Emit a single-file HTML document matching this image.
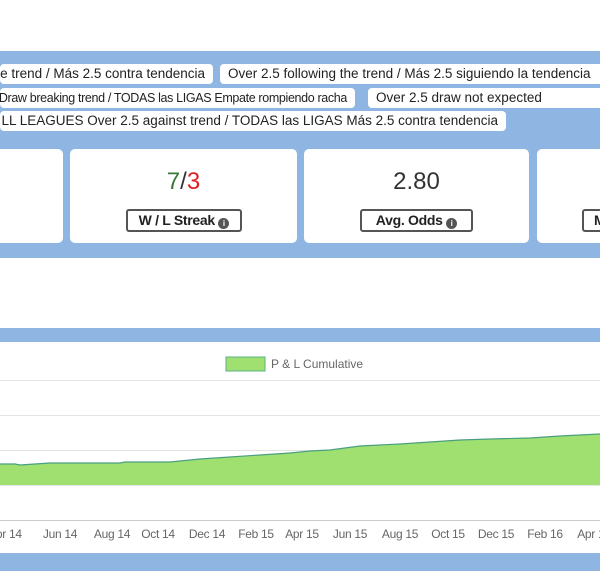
<!DOCTYPE html>
<html><head><style>
body{margin:0;width:600px;height:571px;overflow:hidden;background:#fff;font-family:"Liberation Sans",sans-serif;position:relative}
.a{position:absolute}
.band{background:#8fb6e2;left:0;width:600px}
.tag{position:absolute;background:#fff;border-radius:4px;height:20px;line-height:20px;font-size:13.5px;color:#222;white-space:nowrap;overflow:hidden;padding:0 8px;box-sizing:border-box;display:flex}
.r{justify-content:flex-end}
.card{position:absolute;top:149px;height:94px;background:#fff;border-radius:5px}
.val{position:absolute;top:19px;width:100%;text-align:center;font-size:24px;color:#333}
.btn{position:absolute;top:60px;height:23px;border:2px solid #555;border-radius:3px;box-sizing:border-box;font-size:14px;font-weight:bold;line-height:19px;text-align:center;color:#222;background:#fff;letter-spacing:-0.3px}
.i{display:inline-block;width:11px;height:11px;border-radius:50%;background:#555;color:#fff;font-size:8px;line-height:11px;vertical-align:-1px;letter-spacing:0}
.lbl{position:absolute;top:527px;font-size:12px;color:#666;transform:translateX(-50%);white-space:nowrap;letter-spacing:-0.3px}
</style></head><body>
<div class="a band" style="top:51px;height:207px"></div>
<div class="tag r" style="left:0;top:64px;width:213px">e trend / Más 2.5 contra tendencia</div>
<div class="tag" style="left:220px;top:64px;width:400px">Over 2.5 following the trend / Más 2.5 siguiendo la tendencia</div>
<div class="tag r" style="left:0;top:88px;width:355px;font-size:12.5px;letter-spacing:-0.35px;padding-left:0">S Draw breaking trend / TODAS las LIGAS Empate rompiendo racha</div>
<div class="tag" style="left:368px;top:88px;width:250px">Over 2.5 draw not expected</div>
<div class="tag r" style="left:0;top:111px;width:506px">LL LEAGUES Over 2.5 against trend / TODAS las LIGAS Más 2.5 contra tendencia</div>
<div class="card" style="left:-10px;width:73px"><div class="btn" style="left:-10px;width:14px"></div></div>
<div class="card" style="left:70px;width:227px"><div class="val"><span style="color:#3a7a3a">7</span>/<span style="color:#d22">3</span></div><div class="btn" style="left:56px;width:116px">W / L Streak <span class="i">i</span></div></div>
<div class="card" style="left:304px;width:225px"><div class="val">2.80</div><div class="btn" style="left:56px;width:113px">Avg. Odds <span class="i">i</span></div></div>
<div class="card" style="left:537px;width:80px"><div class="btn" style="left:45px;width:40px;text-align:left;padding-left:10px">M</div></div>
<div class="a band" style="top:328px;height:14px"></div>
<div class="a band" style="top:553px;height:18px"></div>
<svg class="a" style="left:0;top:342px" width="600" height="211">
<rect x="226" y="15" width="39" height="14" fill="#a0e070" stroke="#5ab08a"/>
<text x="271" y="26" font-size="12" fill="#666" font-family="Liberation Sans">P &amp; L Cumulative</text>
<g stroke="#e3e3e3"><line x1="0" x2="600" y1="38.5" y2="38.5"/><line x1="0" x2="600" y1="73.5" y2="73.5"/><line x1="0" x2="600" y1="108.5" y2="108.5"/><line x1="0" x2="600" y1="143.5" y2="143.5"/></g>
<line x1="0" x2="600" y1="178.5" y2="178.5" stroke="#ccc"/>
<path d="M0,122 L15,122 L20,123 L50,121 L120,121 L125,120 L170,120 L200,117 L230,115 L260,113 L290,111 L310,109 L330,108 L345,106 L360,104 L380,103 L400,102 L430,100 L460,98 L490,97 L530,96 L560,94 L580,93 L600,92 L600,143 L0,143Z" fill="#a0e070"/>
<path d="M0,122 L15,122 L20,123 L50,121 L120,121 L125,120 L170,120 L200,117 L230,115 L260,113 L290,111 L310,109 L330,108 L345,106 L360,104 L380,103 L400,102 L430,100 L460,98 L490,97 L530,96 L560,94 L580,93 L600,92" fill="none" stroke="#4a9f80" stroke-width="1.2"/>
</svg>
<div class="lbl" style="left:5px">Apr 14</div><div class="lbl" style="left:60px">Jun 14</div><div class="lbl" style="left:112px">Aug 14</div><div class="lbl" style="left:158px">Oct 14</div><div class="lbl" style="left:207px">Dec 14</div><div class="lbl" style="left:256px">Feb 15</div><div class="lbl" style="left:302px">Apr 15</div><div class="lbl" style="left:350px">Jun 15</div><div class="lbl" style="left:400px">Aug 15</div><div class="lbl" style="left:448px">Oct 15</div><div class="lbl" style="left:496px">Dec 15</div><div class="lbl" style="left:545px">Feb 16</div><div class="lbl" style="left:594px">Apr 16</div>
</body></html>
